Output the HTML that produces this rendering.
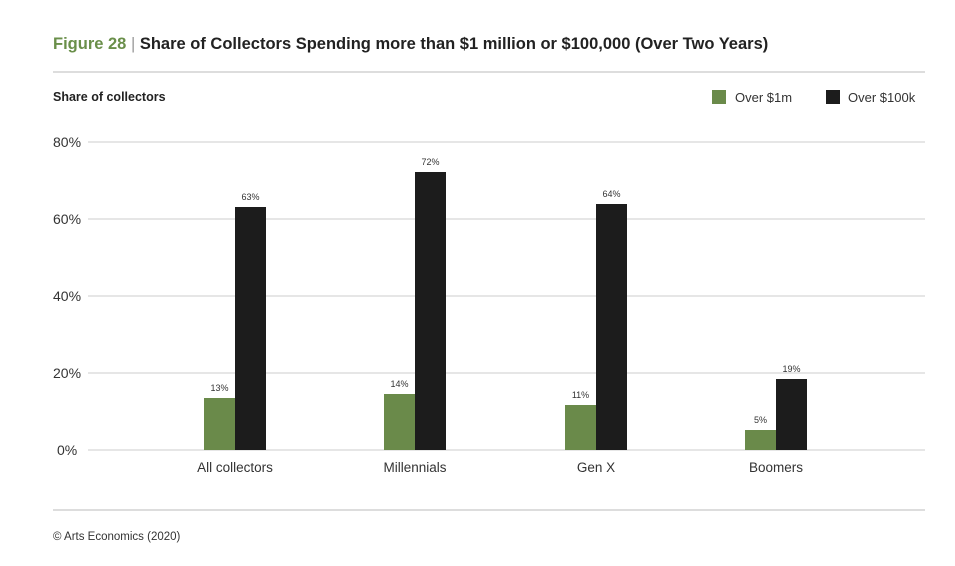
<!DOCTYPE html>
<html><head><style>
body{margin:0;background:#fff;width:955px;height:561px;overflow:hidden;font-family:"Liberation Sans",sans-serif;}
svg text{font-family:"Liberation Sans",sans-serif;}
</style></head><body>
<svg width="955" height="561" xmlns="http://www.w3.org/2000/svg">
<text x="53" y="49" font-size="16.5" font-weight="bold" fill="#222"><tspan fill="#6a8f4a">Figure 28</tspan><tspan fill="#999" font-weight="normal"> | </tspan>Share of Collectors Spending more than $1 million or $100,000 (Over Two Years)</text>
<line x1="53" y1="72" x2="925" y2="72" stroke="#bbb" stroke-width="1"/>
<text x="53" y="101" font-size="12.5" font-weight="bold" fill="#222">Share of collectors</text>
<rect x="712" y="90" width="14" height="14" fill="#6a8a4a"/>
<text x="735" y="102" font-size="13" fill="#333">Over $1m</text>
<rect x="826" y="90" width="14" height="14" fill="#1c1c1c"/>
<text x="848" y="102" font-size="13" fill="#333">Over $100k</text>
<g stroke="#ccc" stroke-width="1">
<line x1="88" y1="142" x2="925" y2="142"/>
<line x1="88" y1="219" x2="925" y2="219"/>
<line x1="88" y1="296" x2="925" y2="296"/>
<line x1="88" y1="373" x2="925" y2="373"/>
<line x1="88" y1="450" x2="925" y2="450"/>
</g>
<g font-size="14" fill="#333">
<text x="53" y="147">80%</text><text x="53" y="224">60%</text><text x="53" y="301">40%</text><text x="53" y="378">20%</text><text x="57" y="455">0%</text>
</g>
<g fill="#6a8a4a">
<rect x="204" y="398" width="31" height="52"/>
<rect x="384" y="394" width="31" height="56"/>
<rect x="565" y="405" width="31" height="45"/>
<rect x="745" y="430" width="31" height="20"/>
</g>
<g fill="#1c1c1c">
<rect x="235" y="207" width="31" height="243"/>
<rect x="415" y="172" width="31" height="278"/>
<rect x="596" y="204" width="31" height="246"/>
<rect x="776" y="379" width="31" height="71"/>
</g>
<g font-size="9" fill="#333" text-anchor="middle">
<text x="219.5" y="391">13%</text><text x="250.5" y="200">63%</text>
<text x="399.5" y="387">14%</text><text x="430.5" y="165">72%</text>
<text x="580.5" y="398">11%</text><text x="611.5" y="197">64%</text>
<text x="760.5" y="423">5%</text><text x="791.5" y="372">19%</text>
</g>
<g font-size="13.5" fill="#333" text-anchor="middle">
<text x="235" y="472">All collectors</text><text x="415" y="472">Millennials</text><text x="596" y="472">Gen X</text><text x="776" y="472">Boomers</text>
</g>
<line x1="53" y1="510" x2="925" y2="510" stroke="#bbb" stroke-width="1"/>
<text x="53" y="540" font-size="11.5" fill="#333">© Arts Economics (2020)</text>
</svg>
</body></html>
